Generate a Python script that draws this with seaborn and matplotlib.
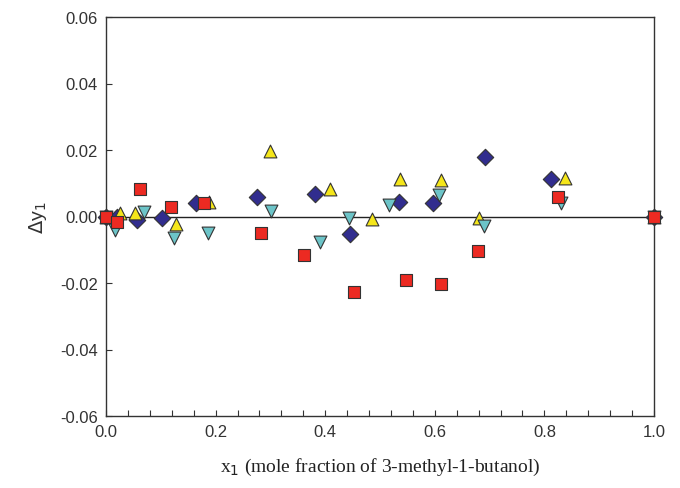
import matplotlib
matplotlib.use("Agg")
import matplotlib.pyplot as plt
import seaborn as sns
import pandas as pd
import numpy as np

# Series data
x_diamond = [0.0, 0.020, 0.056, 0.102, 0.164, 0.275, 0.381, 0.446, 0.534, 0.597, 0.692, 0.812, 1.0]
y_diamond = [0.0, 0.0, -0.0012, -0.0006, 0.0040, 0.0060, 0.0068, -0.0054, 0.0045, 0.0040, 0.0178, 0.0112, 0.0]

x_up = [0.0, 0.025, 0.053, 0.128, 0.188, 0.299, 0.408, 0.485, 0.536, 0.612, 0.681, 0.838, 1.0]
y_up = [0.0, 0.0012, 0.0012, -0.0022, 0.0045, 0.0198, 0.0082, -0.0008, 0.0114, 0.0110, -0.0005, 0.0115, 0.0]

x_down = [0.0, 0.016, 0.069, 0.124, 0.186, 0.302, 0.390, 0.443, 0.517, 0.608, 0.690, 0.831, 1.0]
y_down = [0.0, -0.0040, 0.0015, -0.0066, -0.0050, 0.0018, -0.0076, -0.0006, 0.0036, 0.0066, -0.0028, 0.0042, 0.0]

x_sq = [0.0, 0.020, 0.062, 0.118, 0.178, 0.282, 0.362, 0.452, 0.548, 0.612, 0.678, 0.825, 1.0]
y_sq = [0.0, -0.0018, 0.0084, 0.0028, 0.0042, -0.0050, -0.0117, -0.0228, -0.0192, -0.0204, -0.0105, 0.0058, 0.0]

x_ticks = [0.0, 0.2, 0.4, 0.6, 0.8, 1.0]
y_ticks = [-0.06, -0.04, -0.02, 0.00, 0.02, 0.04, 0.06]

sns.set_theme(style="white")
plt.rcParams['font.family'] = ['Liberation Sans', 'DejaVu Sans']

fig = plt.figure(figsize=(6.8, 4.89), dpi=100)
ax = fig.add_axes([106/680, 1 - 417/489, (654-106)/680, (417-18)/489])

ax.axhline(0, color="#222222", lw=1.0, zorder=1)

series = [
    (x_diamond, y_diamond, "D", "#312D8E", 70),
    (x_up, y_up, "^", "#F5E61A", 85),
    (x_down, y_down, "v", "#6CC4C8", 85),
    (x_sq, y_sq, "s", "#EC2A22", 64),
]
for xs, ys, m, c, s in series:
    df = pd.DataFrame({"x": xs, "y": ys})
    sns.scatterplot(data=df, x="x", y="y", marker=m, color=c, s=s,
                    edgecolor="#333333", linewidth=0.8, ax=ax, zorder=3, clip_on=False)

ax.set_xlim(0, 1.0)
ax.set_ylim(-0.06, 0.06)
ax.set_xticks(x_ticks)
ax.set_xticklabels([f"{v:.1f}" for v in x_ticks])
ax.set_xticks(np.arange(0, 1.0001, 0.04), minor=True)
ax.set_yticks(y_ticks)
ax.set_yticklabels([f"{v:.2f}" for v in y_ticks])

ax.tick_params(axis="both", which="both", direction="in", labelsize=12, colors="#333333",
               top=False, right=False, bottom=True, left=True, length=4, width=0.8, pad=6)
for sp in ax.spines.values():
    sp.set_color("#333333")
    sp.set_linewidth(1.0)
    sp.set_visible(True)

ax.set_xlabel(r"x$_1$ (mole fraction of 3-methyl-1-butanol)", fontsize=14,
              family=['Liberation Serif', 'DejaVu Serif'], color="#222222", labelpad=12)
ax.set_ylabel(r"$\Delta$y$_1$", fontsize=14, color="#333333", labelpad=8)

fig.savefig("out.png", dpi=100)
